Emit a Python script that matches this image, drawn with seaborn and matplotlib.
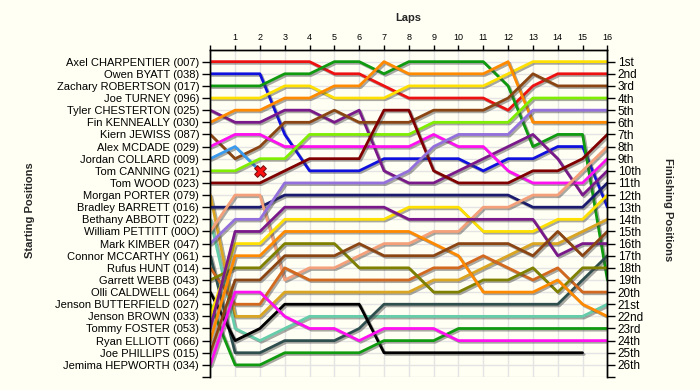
import numpy as np
import pandas as pd
import matplotlib
matplotlib.use("Agg")
import matplotlib.pyplot as plt
import matplotlib.patheffects as pe
import seaborn as sns

nan = np.nan
laps = list(range(0, 17))

drivers = [
    "Axel CHARPENTIER (007)", "Owen BYATT (038)", "Zachary ROBERTSON (017)",
    "Joe TURNEY (096)", "Tyler CHESTERTON (025)", "Fin KENNEALLY (030)",
    "Kiern JEWISS (087)", "Alex MCDADE (029)", "Jordan COLLARD (009)",
    "Tom CANNING (021)", "Tom WOOD (023)", "Morgan PORTER (079)",
    "Bradley BARRETT (016)", "Bethany ABBOTT (022)", "William PETTITT (00O)",
    "Mark KIMBER (047)", "Connor MCCARTHY (061)", "Rufus HUNT (014)",
    "Garrett WEBB (043)", "Olli CALDWELL (064)", "Jenson BUTTERFIELD (027)",
    "Jenson BROWN (033)", "Tommy FOSTER (053)", "Ryan ELLIOTT (066)",
    "Joe PHILLIPS (015)", "Jemima HEPWORTH (034)",
]

colors = [
    "#EE1111", "#1111DD", "#109A10", "#FFE000", "#7A1A8A", "#FF8A00",
    "#8B4513", "#FF10F0", "#3A9AEE", "#80EE00", "#800000", "#DAA520",
    "#1A1A6E", "#66CDAA", "#F4A07A", "#9370DB", "#2F4F4F", "#D2691E",
    "#808000", "#000000", "#109A10", "#FFE000", "#7A1A8A", "#FF8A00",
    "#8B4513", "#FF10F0",
]

# positions per lap (lap 0 = start)
pos_charpentier = [1, 1, 1, 1, 1, 2, 2, 3, 4, 4, 4, 4, 5, 3, 2, 2, 2]
pos_byatt = [2, 2, 2, 7, 10, 10, 10, 9, 9, 9, 9, 10, 9, 9, 8, 8, 13]
pos_robertson = [3, 3, 3, 2, 2, 1, 1, 2, 1, 1, 1, 1, 3, 8, 7, 7, 19]
pos_turney = [4, 4, 4, 3, 3, 4, 4, 4, 3, 3, 3, 3, 2, 1, 1, 1, 1]
pos_chesterton = [5, 6, 6, 5, 5, 6, 5, 10, 11, 11, 10, 9, 8, 7, 9, 12, 10]
pos_kenneally = [6, 5, 5, 4, 4, 3, 3, 1, 2, 2, 2, 2, 1, 6, 6, 6, 6]
pos_jewiss = [7, 9, 8, 6, 6, 5, 6, 6, 6, 5, 5, 5, 4, 2, 3, 3, 3]
pos_mcdade = [8, 7, 7, 8, 8, 8, 8, 8, 8, 7, 8, 8, 10, 11, 11, 11, 9]
pos_collard = [9, 8, 10, nan, nan, nan, nan, nan, nan, nan, nan, nan, nan, nan, nan, nan, nan]
pos_canning = [10, 10, 9, 9, 7, 7, 7, 7, 7, 6, 6, 6, 6, 4, 4, 4, 4]
pos_wood = [11, 11, 11, 10, 9, 9, 9, 5, 5, 10, 11, 11, 11, 10, 10, 9, 7]
pos_porter = [12, 22, 22, 20, 20, 20, 20, 20, 20, 19, 19, 18, 17, 16, 16, 15, 14]
pos_barrett = [13, 13, 13, 12, 12, 12, 12, 12, 12, 12, 12, 12, 12, 13, 13, 13, 11]
pos_abbott = [14, 23, 24, 23, 22, 22, 22, 22, 22, 22, 22, 22, 22, 22, 22, 22, 21]
pos_pettitt = [15, 12, 12, 19, 18, 18, 17, 16, 16, 15, 15, 13, 13, 12, 12, 10, 8]
pos_kimber = [16, 14, 14, 11, 11, 11, 11, 11, 10, 8, 7, 7, 7, 5, 5, 5, 5]
pos_mccarthy = [17, 25, 25, 24, 24, 24, 23, 21, 21, 21, 21, 21, 21, 21, 21, 19, 17]
pos_hunt = [18, 21, 21, 18, 19, 19, 19, 19, 19, 18, 18, 17, 18, 19, 18, 20, 20]
pos_webb = [19, 18, 18, 16, 16, 16, 18, 18, 18, 20, 20, 19, 19, 18, 20, 18, 18]
pos_caldwell = [20, 24, 23, 21, 21, 21, 21, 25, 25, 25, 25, 25, 25, 25, 25, 25, nan]
pos_butterfield = [21, 26, 26, 25, 25, 25, 25, 24, 24, 24, 23, 23, 23, 23, 23, 23, 23]
pos_brown = [22, 16, 16, 14, 14, 14, 14, 14, 13, 13, 13, 15, 15, 15, 14, 14, 12]
pos_foster = [23, 15, 15, 13, 13, 13, 13, 13, 14, 14, 14, 14, 14, 14, 17, 16, 16]
pos_elliott = [24, 17, 17, 15, 15, 15, 15, 15, 15, 16, 17, 20, 20, 20, 19, 21, 22]
pos_phillips = [25, 19, 19, 17, 17, 17, 16, 17, 17, 17, 16, 16, 16, 17, 15, 17, 15]
pos_hepworth = [26, 20, 20, 22, 23, 23, 24, 23, 23, 23, 24, 24, 24, 24, 24, 24, 24]

retired_lap = [2]
retired_pos = [10]

all_pos = [
    pos_charpentier, pos_byatt, pos_robertson, pos_turney, pos_chesterton,
    pos_kenneally, pos_jewiss, pos_mcdade, pos_collard, pos_canning, pos_wood,
    pos_porter, pos_barrett, pos_abbott, pos_pettitt, pos_kimber, pos_mccarthy,
    pos_hunt, pos_webb, pos_caldwell, pos_butterfield, pos_brown, pos_foster,
    pos_elliott, pos_phillips, pos_hepworth,
]

finish_labels = []
for n in range(1, 27):
    if n % 10 == 1 and n != 11:
        s = "st"
    elif n % 10 == 2 and n != 12:
        s = "nd"
    elif n % 10 == 3 and n != 13:
        s = "rd"
    else:
        s = "th"
    finish_labels.append(f"{n}{s}")

rows = []
for d, p in zip(drivers, all_pos):
    for lap, v in zip(laps, p):
        if not np.isnan(v):
            rows.append({"driver": d, "lap": lap, "pos": v})
df = pd.DataFrame(rows)
palette = dict(zip(drivers, colors))

sns.set_style("white")
plt.rcParams["font.family"] = ["Liberation Sans", "DejaVu Sans"]

bg = "#FFFFF4"
fig = plt.figure(figsize=(7.0, 3.9), dpi=100, facecolor=bg)
ax = fig.add_axes([0.3004, 0.0333, 0.5673, 0.8397])
ax.set_facecolor(bg)

sns.lineplot(data=df, x="lap", y="pos", hue="driver", hue_order=drivers,
             palette=palette, estimator=None, sort=False, legend=False,
             linewidth=2.0, ax=ax)
for ln in ax.lines:
    ln.set_path_effects([pe.SimpleLineShadow(offset=(1.2, -1.2), shadow_color="#404040", alpha=0.45),
                         pe.Normal()])
    ln.set_solid_joinstyle("round")

sns.scatterplot(x=retired_lap, y=retired_pos, marker="X", s=70, color="#FF1010",
                edgecolor="#801010", linewidth=0.8, ax=ax, zorder=5, legend=False)

ax.set_xlim(0, 16)
ax.set_ylim(27, 0)
ax.set_xticks(laps)
ax.set_xticklabels([""] + [str(l) for l in laps[1:]])
ax.xaxis.tick_top()
ax.set_yticks(range(1, 28))
ax.set_yticklabels(drivers + [""])
ax.tick_params(axis="y", direction="out", length=6, width=1, pad=2, labelsize=8, colors="black")
ax.tick_params(axis="x", direction="out", length=3.5, width=1, pad=2, labelsize=6.5, colors="black")
ax.grid(True, color="#E4E4E4", linewidth=1.0)
ax.set_axisbelow(True)
ax.set_xlabel("")
ax.set_ylabel("")
for s in ["left", "right", "top"]:
    ax.spines[s].set_visible(True)
    ax.spines[s].set_color("black")
    ax.spines[s].set_linewidth(1.0)
ax.spines["bottom"].set_visible(False)

ax2 = ax.twinx()
ax2.set_ylim(27, 0)
ax2.set_yticks(range(1, 28))
ax2.set_yticklabels(finish_labels + [""])
ax2.tick_params(axis="y", direction="out", length=6, width=1, pad=1.5, labelsize=8.5, colors="black")
ax2.grid(False)
for s in ["left", "right", "top"]:
    ax2.spines[s].set_color("black")
    ax2.spines[s].set_linewidth(1.0)
ax2.spines["bottom"].set_visible(False)

fig.text(0.583, 1 - 18 / 390, "Laps", ha="center", va="center", fontsize=8, fontweight="bold")
fig.text(30 / 700, 1 - 210 / 390, "Starting Positions", ha="center", va="center",
         rotation=90, fontsize=8, fontweight="bold")
fig.text(668 / 700, 1 - 210 / 390, "Finishing Positions", ha="center", va="center",
         rotation=270, fontsize=8, fontweight="bold")

fig.savefig("out.png", dpi=100, facecolor=bg)
